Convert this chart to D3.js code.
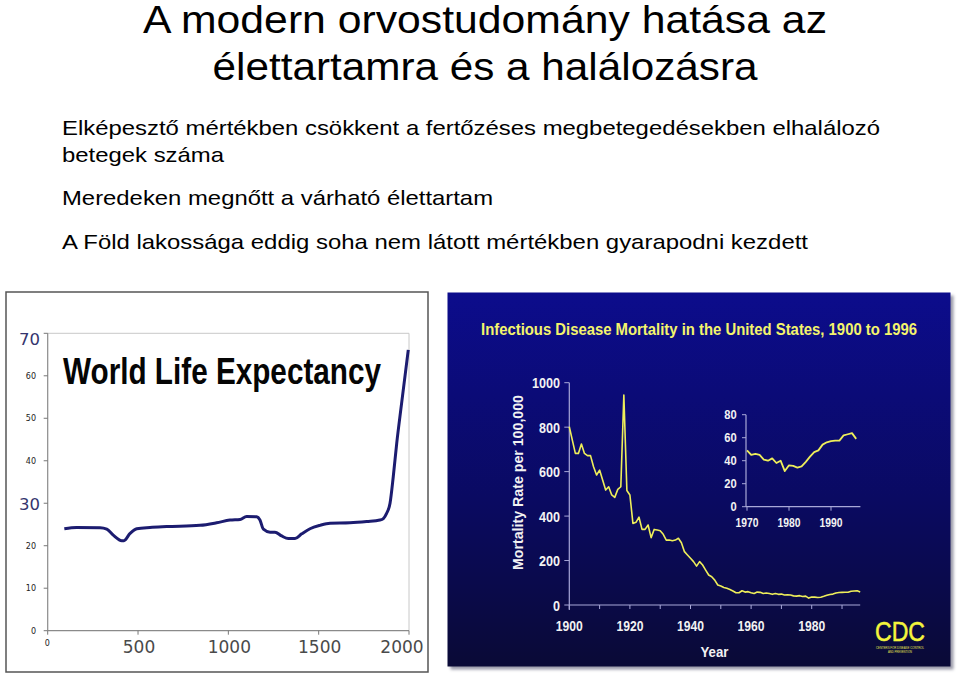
<!DOCTYPE html>
<html><head><meta charset="utf-8">
<script src="https://cdn.jsdelivr.net/npm/d3@7"></script>
<style>body{margin:0;background:#fff}svg{display:block}</style>
</head><body>
<svg id="c" width="960" height="677"></svg>
<script>
// ---------- slide texts ----------
const titleLines = ["A modern orvostudomány hatása az", "élettartamra és a halálozásra"];
const bulletLines = [
  "Elképesztő mértékben csökkent a fertőzéses megbetegedésekben elhalálozó",
  "betegek száma",
  "Meredeken megnőtt a várható élettartam",
  "A Föld lakossága eddig soha nem látott mértékben gyarapodni kezdett"
];

// ---------- left chart: World Life Expectancy ----------
const lifeTitle = "World Life Expectancy";
const lifeYears = [92,160,290,327,363,410,422,456,493,566,659,843,935,1009,1065,1101,1157,1175,1194,1231,1258,1295,1332,1369,1406,1452,1507,1563,1673,1766,1839,1858,1876,1895,1913,1932,1959,1996];
const lifeValues = [24.0,24.3,24.25,23.9,22.5,21.2,21.2,22.9,24.0,24.3,24.5,24.8,25.4,26.05,26.2,26.9,26.8,26.05,23.9,23.2,23.2,22.3,21.7,21.7,22.8,24.0,24.8,25.3,25.4,25.7,26.05,26.4,27.6,30.0,36.3,44.1,53.5,66.1];
const lifeYTicks = [0,10,20,30,40,50,60,70];
const lifeYBig = [30,70];
const lifeXTicks = [0,500,1000,1500,2000];
const lifeXBig = [500,1000,1500,2000];

// ---------- right chart: Infectious disease mortality ----------
const mortTitle = "Infectious Disease Mortality in the United States, 1900 to 1996";
const mortYTitle = "Mortality Rate per 100,000";
const mortXTitle = "Year";
const mortStartYear = 1900;
const mortValues = [802,742,682,682,724,682,672,672,622,585,
  607,562,517,532,495,484,520,532,945,515,
  495,367,372,395,340,340,360,303,340,337,
  334,318,292,292,289,292,300,280,240,225,
  210,195,175,195,180,157,135,127,112,90,
  85,79,75,70,63,55,55,64,58,60,
  55,52,58,57,52,54,52,48,52,48];
const insetStartYear = 1970;
const insetValues = [49,45,46,45,41,40,42,38,40,31,36,35.5,34,35,39,43.5,47.5,49,54,56,57,57.5,57.5,62,63,64,59];
const mortYTicks = [0,200,400,600,800,1000];
const mortXTicks = [1900,1910,1920,1930,1940,1950,1960,1970,1980,1990];
const mortXLabels = [1900,1920,1940,1960,1980];
const insetYTicks = [0,20,40,60,80];
const insetXTicks = [1970,1980,1990];
const cdcLines = ["CENTERS FOR DISEASE CONTROL","AND PREVENTION"];

const svg = d3.select("#c");
const SANS = "'Liberation Sans', Arial, sans-serif";

// slide title
const titleLen = [684, 545];
svg.selectAll("text.title").data(titleLines).join("text")
  .attr("x", 485).attr("y", (d,i)=> 33 + i*47)
  .attr("text-anchor","middle")
  .attr("font-family", SANS).attr("font-size", 38).attr("fill","#000")
  .attr("textLength",(d,i)=>titleLen[i]).attr("lengthAdjust","spacingAndGlyphs")
  .text(d=>d);

const bulletY = [135,162,205,249];
const bulletLen = [818,162,431,746];
svg.selectAll("text.bullet").data(bulletLines).join("text")
  .attr("x", 62).attr("y",(d,i)=>bulletY[i])
  .attr("font-family", SANS).attr("font-size", 21).attr("fill","#000")
  .attr("textLength",(d,i)=>bulletLen[i]).attr("lengthAdjust","spacingAndGlyphs")
  .text(d=>d);

// ---------- left panel ----------
const L = svg.append("g");
L.append("rect").attr("x",6).attr("y",292).attr("width",422).attr("height",380)
  .attr("fill","#fff").attr("stroke","#555").attr("stroke-width",1.5);

const xL = d3.scaleLinear().domain([0,2000]).range([47.7,409]);
const yL = d3.scaleLinear().domain([0,70]).range([630.7,333.3]);

L.append("line").attr("x1",xL(0)).attr("x2",xL(2000)).attr("y1",yL(70)).attr("y2",yL(70)).attr("stroke","#c8c8c8");
L.append("line").attr("x1",xL(2000)).attr("x2",xL(2000)).attr("y1",yL(70)).attr("y2",yL(0)).attr("stroke","#c8c8c8");
L.append("line").attr("x1",xL(0)).attr("x2",xL(0)).attr("y1",yL(70)).attr("y2",yL(0)).attr("stroke","#8a8a8a").attr("stroke-width",1.2);
L.append("line").attr("x1",xL(0)).attr("x2",xL(2000)).attr("y1",yL(0)).attr("y2",yL(0)).attr("stroke","#8a8a8a").attr("stroke-width",1.2);
L.selectAll("line.yt").data(lifeYTicks).join("line")
  .attr("x1",xL(0)-4).attr("x2",xL(0)).attr("y1",d=>yL(d)).attr("y2",d=>yL(d)).attr("stroke","#777");
L.selectAll("line.xt").data(lifeXTicks).join("line")
  .attr("x1",d=>xL(d)).attr("x2",d=>xL(d)).attr("y1",yL(0)).attr("y2",yL(0)+4).attr("stroke","#777");

L.selectAll("text.ys").data(lifeYTicks.filter(d=>!lifeYBig.includes(d))).join("text")
  .attr("x",36).attr("y",d=>yL(d)+3.2).attr("text-anchor","end")
  .attr("font-family","'DejaVu Sans', sans-serif").attr("font-size",8).attr("fill","#222")
  .text(d=>d);
L.selectAll("text.yb").data(lifeYBig).join("text")
  .attr("x",40).attr("y",d=>Math.max(yL(d)+6.8, yL(70)+11.7)).attr("text-anchor","end")
  .attr("font-family","'DejaVu Sans', sans-serif").attr("font-size",16.5).attr("fill","#34346e")
  .text(d=>d);
L.selectAll("text.xs").data(lifeXTicks.filter(d=>!lifeXBig.includes(d))).join("text")
  .attr("x",d=>xL(d)-0.5).attr("y",646).attr("text-anchor","middle")
  .attr("font-family","'DejaVu Sans', sans-serif").attr("font-size",8).attr("fill","#222")
  .text(d=>d);
L.selectAll("text.xb").data(lifeXBig).join("text")
  .attr("x",d=>Math.min(xL(d)+1, 402)).attr("y",653.3).attr("text-anchor","middle")
  .attr("font-family","'DejaVu Sans', sans-serif").attr("font-size",17).attr("fill","#4a4a4a")
  .text(d=>d);

L.append("text").attr("x",63).attr("y",384)
  .attr("font-family", SANS).attr("font-weight","bold").attr("font-size",37).attr("fill","#050505")
  .attr("textLength",318).attr("lengthAdjust","spacingAndGlyphs")
  .text(lifeTitle);

const lifeLine = d3.line().x((d,i)=>xL(lifeYears[i])).y(d=>yL(d)).curve(d3.curveMonotoneX);
L.append("path").attr("d",lifeLine(lifeValues)).attr("fill","none")
  .attr("stroke","#1c1c70").attr("stroke-width",3).attr("stroke-linejoin","round");

// ---------- right panel ----------
const defs = svg.append("defs");
const grad = defs.append("linearGradient").attr("id","bg").attr("x1",0).attr("x2",0).attr("y1",0).attr("y2",1);
grad.append("stop").attr("offset","0%").attr("stop-color","#0c0c8c");
grad.append("stop").attr("offset","55%").attr("stop-color","#0a0a62");
grad.append("stop").attr("offset","100%").attr("stop-color","#0a0a36");
const blur = defs.append("filter").attr("id","sh").attr("x","-5%").attr("y","-5%").attr("width","110%").attr("height","110%");
blur.append("feGaussianBlur").attr("stdDeviation",1.5);

const R = svg.append("g");
R.append("rect").attr("x",450.5).attr("y",295.5).attr("width",503).attr("height",374)
  .attr("fill","#9a9aa8").attr("filter","url(#sh)");
R.append("rect").attr("x",447.5).attr("y",292.5).attr("width",503).attr("height",374)
  .attr("fill","url(#bg)");

R.append("text").attr("x",699).attr("y",335).attr("text-anchor","middle")
  .attr("font-family",SANS).attr("font-weight","bold").attr("font-size",16).attr("fill","#f4f46c")
  .attr("textLength",436).attr("lengthAdjust","spacingAndGlyphs")
  .text(mortTitle);

const xR = d3.scaleLinear().domain([1900,1996]).range([569.3,860.2]);
const yR = d3.scaleLinear().domain([0,1000]).range([605,382.7]);
const AX = "#a8a8d8";

R.append("line").attr("x1",xR(1900)).attr("x2",xR(1900)).attr("y1",yR(1000)).attr("y2",yR(0)+5).attr("stroke",AX).attr("stroke-width",1.2);
R.append("line").attr("x1",xR(1900)).attr("x2",xR(1996)).attr("y1",yR(0)).attr("y2",yR(0)).attr("stroke",AX).attr("stroke-width",1.2);
R.selectAll("line.myt").data(mortYTicks).join("line")
  .attr("x1",xR(1900)-5).attr("x2",xR(1900)).attr("y1",d=>yR(d)).attr("y2",d=>yR(d)).attr("stroke",AX);
R.selectAll("line.mxt").data(mortXTicks).join("line")
  .attr("x1",d=>xR(d)).attr("x2",d=>xR(d)).attr("y1",yR(0)).attr("y2",yR(0)+4).attr("stroke",AX);

R.selectAll("text.myl").data(mortYTicks).join("text")
  .attr("x",560).attr("y",d=>yR(d)+5.6).attr("text-anchor","end")
  .attr("font-family",SANS).attr("font-weight","bold").attr("font-size",15).attr("fill","#f2f2f2")
  .attr("textLength",d=>String(d).length*7).attr("lengthAdjust","spacingAndGlyphs")
  .text(d=>d);
R.selectAll("text.mxl").data(mortXLabels).join("text")
  .attr("x",d=>xR(d)).attr("y",630.5).attr("text-anchor","middle")
  .attr("font-family",SANS).attr("font-weight","bold").attr("font-size",15).attr("fill","#f2f2f2")
  .attr("textLength",27).attr("lengthAdjust","spacingAndGlyphs")
  .text(d=>d);
R.append("text").attr("x",714.5).attr("y",656.5).attr("text-anchor","middle")
  .attr("font-family",SANS).attr("font-weight","bold").attr("font-size",15).attr("fill","#f2f2f2")
  .attr("textLength",28).attr("lengthAdjust","spacingAndGlyphs")
  .text(mortXTitle);
R.append("text").attr("transform","translate(523,482.5) rotate(-90)").attr("text-anchor","middle")
  .attr("font-family",SANS).attr("font-weight","bold").attr("font-size",14.5).attr("fill","#f2f2f2")
  .attr("textLength",175).attr("lengthAdjust","spacingAndGlyphs")
  .text(mortYTitle);

const allMort = mortValues.concat(insetValues);
const mortLine = d3.line().x((d,i)=>xR(mortStartYear+i)).y(d=>yR(d));
R.append("path").attr("d",mortLine(allMort)).attr("fill","none")
  .attr("stroke","#eeee5a").attr("stroke-width",1.6).attr("stroke-linejoin","round");

// inset
const xI = d3.scaleLinear().domain([1970,1997]).range([747,860.4]);
const yI = d3.scaleLinear().domain([0,80]).range([506.7,414.7]);
R.append("line").attr("x1",746).attr("x2",746).attr("y1",yI(80)).attr("y2",yI(0)).attr("stroke",AX).attr("stroke-width",1.2);
R.append("line").attr("x1",746).attr("x2",xI(1997)).attr("y1",yI(0)).attr("y2",yI(0)).attr("stroke",AX).attr("stroke-width",1.2);
R.selectAll("line.iyt").data(insetYTicks).join("line")
  .attr("x1",742).attr("x2",746).attr("y1",d=>yI(d)).attr("y2",d=>yI(d)).attr("stroke",AX);
R.selectAll("line.ixt").data(insetXTicks).join("line")
  .attr("x1",d=>xI(d)).attr("x2",d=>xI(d)).attr("y1",yI(0)).attr("y2",yI(0)+4).attr("stroke",AX);
R.selectAll("text.iyl").data(insetYTicks).join("text")
  .attr("x",736.7).attr("y",d=>yI(d)+4.6).attr("text-anchor","end")
  .attr("font-family",SANS).attr("font-weight","bold").attr("font-size",12).attr("fill","#f2f2f2")
  .attr("textLength",d=>String(d).length*6.2).attr("lengthAdjust","spacingAndGlyphs")
  .text(d=>d);
R.selectAll("text.ixl").data(insetXTicks).join("text")
  .attr("x",d=>xI(d)).attr("y",527.3).attr("text-anchor","middle")
  .attr("font-family",SANS).attr("font-weight","bold").attr("font-size",12).attr("fill","#f2f2f2")
  .attr("textLength",23).attr("lengthAdjust","spacingAndGlyphs")
  .text(d=>d);
const insetLine = d3.line().x((d,i)=>xI(insetStartYear+i)).y(d=>yI(d));
R.append("path").attr("d",insetLine(insetValues)).attr("fill","none")
  .attr("stroke","#eeee5a").attr("stroke-width",1.8).attr("stroke-linejoin","round");

// CDC logo
R.append("text").attr("x",900).attr("y",641).attr("text-anchor","middle")
  .attr("font-family",SANS).attr("font-size",28).attr("fill","#f4f43c")
  .attr("stroke","#f4f43c").attr("stroke-width",0.5)
  .attr("textLength",50).attr("lengthAdjust","spacingAndGlyphs").text("CDC");
R.selectAll("text.cdc").data(cdcLines).join("text")
  .attr("x",900).attr("y",(d,i)=>649+i*3.6).attr("text-anchor","middle")
  .attr("font-family",SANS).attr("font-size",3).attr("fill","#e6e650")
  .attr("textLength",(d,i)=>i?24:48).attr("lengthAdjust","spacingAndGlyphs").text(d=>d);
</script>
</body></html>
